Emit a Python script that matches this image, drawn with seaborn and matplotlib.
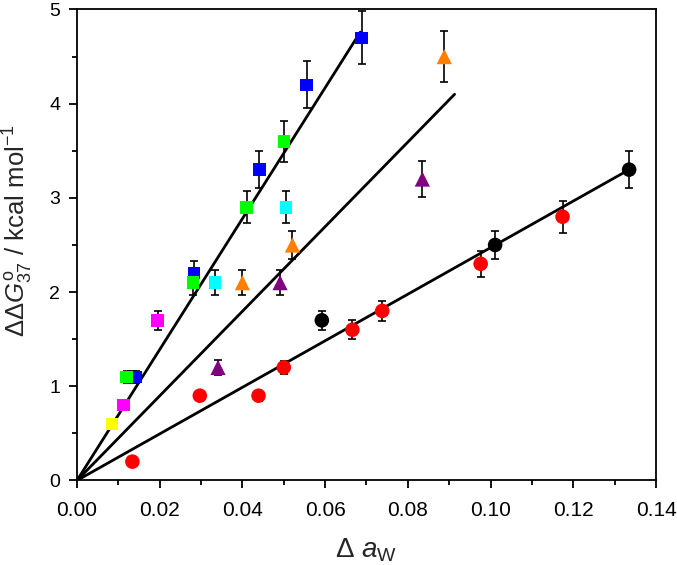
import matplotlib
matplotlib.use("Agg")
import matplotlib.pyplot as plt
import matplotlib.ticker as mticker
import pandas as pd
import seaborn as sns

# measured points (x = delta a_w, y = ddG37 in kcal/mol, err = error bar half-height)
yellow_x = [0.0085, 0.0136]
yellow_y = [0.6, 1.1]
yellow_err = [0.05, 0.06]

blue_x = [0.0142, 0.0283, 0.0441, 0.0555, 0.0688]
blue_y = [1.1, 2.2, 3.3, 4.2, 4.7]
blue_err = [0.06, 0.13, 0.20, 0.25, 0.28]

green_x = [0.0120, 0.0281, 0.0410, 0.0500]
green_y = [1.1, 2.1, 2.9, 3.6]
green_err = [0.06, 0.13, 0.17, 0.22]

cyan_x = [0.0334, 0.0505]
cyan_y = [2.1, 2.9]
cyan_err = [0.13, 0.17]

magenta_x = [0.0112, 0.0195]
magenta_y = [0.8, 1.7]
magenta_err = [0.05, 0.10]

orange_x = [0.0400, 0.0521, 0.0888]
orange_y = [2.1, 2.5, 4.5]
orange_err = [0.13, 0.15, 0.27]

purple_x = [0.0341, 0.0491, 0.0835]
purple_y = [1.2, 2.1, 3.2]
purple_err = [0.08, 0.13, 0.19]

red_x = [0.0134, 0.0297, 0.0439, 0.0500, 0.0666, 0.0738, 0.0976, 0.1174]
red_y = [0.2, 0.9, 0.9, 1.2, 1.6, 1.8, 2.3, 2.8]
red_err = [0.04, 0.055, 0.055, 0.07, 0.10, 0.11, 0.14, 0.17]

black_x = [0.0592, 0.1011, 0.1335]
black_y = [1.7, 2.5, 3.3]
black_err = [0.10, 0.15, 0.20]

# linear fits through the origin: end points
fit_x_end = [0.0685, 0.0913, 0.1335]
fit_y_end = [4.76, 4.10, 3.30]

series = {
    "yellow": (yellow_x, yellow_y, yellow_err),
    "blue": (blue_x, blue_y, blue_err),
    "green": (green_x, green_y, green_err),
    "cyan": (cyan_x, cyan_y, cyan_err),
    "magenta": (magenta_x, magenta_y, magenta_err),
    "orange": (orange_x, orange_y, orange_err),
    "purple": (purple_x, purple_y, purple_err),
    "red": (red_x, red_y, red_err),
    "black": (black_x, black_y, black_err),
}
colors = {"yellow": "#ffff00", "blue": "#0000ff", "green": "#00ff00", "cyan": "#00ffff",
          "magenta": "#ff00ff", "orange": "#ff8000", "purple": "#800080",
          "red": "#ff0000", "black": "#000000"}
markers = {"yellow": "s", "blue": "s", "green": "s", "cyan": "s", "magenta": "s",
           "orange": "^", "purple": "^", "red": "o", "black": "o"}
sizes = {"s": 80, "^": 120, "o": 110}

rows = []
for name, (xs, ys, es) in series.items():
    for x, y, e in zip(xs, ys, es):
        rows.append({"series": name, "x": x, "y": y, "err": e})
df = pd.DataFrame(rows)

fits = []
for i, (xe, ye) in enumerate(zip(fit_x_end, fit_y_end)):
    fits.append({"fit": i, "x": 0.0, "y": 0.0})
    fits.append({"fit": i, "x": xe, "y": ye})
fit_df = pd.DataFrame(fits)

sns.set_style("ticks")
plt.rcParams["font.family"] = ["Liberation Sans", "DejaVu Sans"]
plt.rcParams["mathtext.fontset"] = "custom"
plt.rcParams["mathtext.rm"] = "Liberation Sans"
plt.rcParams["mathtext.it"] = "Liberation Sans:italic"

fig = plt.figure(figsize=(6.77, 5.65), dpi=100)
ax = fig.add_axes([0.1137, 0.1496, 0.8553, 0.8336])

sns.lineplot(data=fit_df, x="x", y="y", units="fit", estimator=None,
             color="black", lw=2.0, ax=ax, zorder=2)

ax.errorbar(df["x"], df["y"], yerr=df["err"], fmt="none", ecolor="black",
            elinewidth=1.2, capsize=3.0, capthick=1.2, zorder=3)

for mk in ["s", "^", "o"]:
    sub = df[df["series"].map(markers) == mk]
    sns.scatterplot(data=sub, x="x", y="y", hue="series", palette=colors,
                    marker=mk, s=sizes[mk], linewidth=0, legend=False,
                    ax=ax, zorder=4)

ax.set_xlim(0, 0.14)
ax.set_ylim(0, 5)
ax.xaxis.set_major_locator(mticker.MultipleLocator(0.02))
ax.xaxis.set_minor_locator(mticker.MultipleLocator(0.01))
ax.yaxis.set_major_locator(mticker.MultipleLocator(1))
ax.yaxis.set_minor_locator(mticker.MultipleLocator(0.5))
ax.xaxis.set_major_formatter(mticker.FormatStrFormatter("%.2f"))

for sp in ax.spines.values():
    sp.set_linewidth(1.3)
    sp.set_color("black")
ax.tick_params(which="major", direction="out", length=6, width=1.3, colors="black")
ax.tick_params(which="minor", direction="out", length=3.5, width=1.3, colors="black")
ax.tick_params(axis="x", labelsize=15, pad=9)
ax.tick_params(axis="y", labelsize=14, pad=6)

ax.set_xlabel(r"$\Delta\ a_{\rm W}$", fontsize=20, labelpad=12)
ax.set_ylabel(r"$\Delta\Delta G^{\rm o}_{37}$ / kcal mol$^{-1}$", fontsize=18.5)
ax.yaxis.set_label_coords(-0.073, 0.53)

fig.savefig("out.png", dpi=100)
